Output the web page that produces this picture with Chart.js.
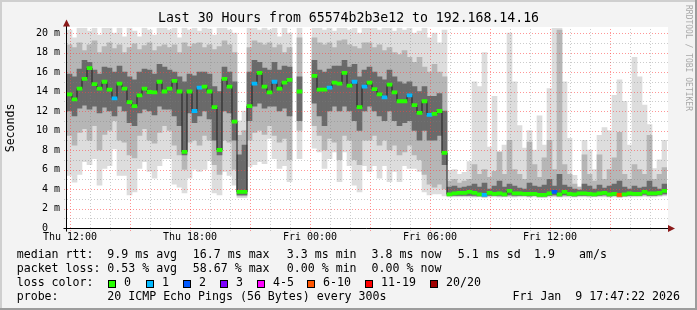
<!DOCTYPE html>
<html>
<head>
<meta charset="utf-8">
<script src="https://cdn.jsdelivr.net/npm/chart.js@4.4.1/dist/chart.umd.min.js"></script>
<style>
html, body { margin: 0; padding: 0; background: #f3f3f3; }
canvas { display: block; }
</style>
</head>
<body>
<canvas id="smoke" width="697" height="310" style="width:697px;height:310px"></canvas>
<script>
// 30 hours of 15 minute bins, first bin starts Thu 11:51 (hours counted from Thu 00:00)
var binStart = 11.85;
var binStep = 0.25;

// median rtt in ms per bin (null = no data)
var median = [
  13.7, 13.2, 14.3, 15.3, 16.4, 14.75, 14.3, 15.0, 14.2, 13.3, 14.8, 14.3, 12.9, 12.5, 13.6, 14.3, 13.95, 13.9, 15.0, 14.0,
  14.3, 15.1, 14.0, 7.8, 14.0, 12.0, 14.4, 14.5, 14.0, 12.4, 8.0, 15.3, 14.5, 10.9, 3.7, 3.7, 12.5, 14.8, 15.9, 14.5,
  13.9, 15.0, 14.3, 14.9, 15.2, null, 14.0, null, null, 15.6, 14.2, 14.2, 14.4, 14.9, 14.8, 15.9, 14.6, 15.0, 12.4, 14.5,
  14.9, 14.25, 13.7, 13.4, 14.7, 13.9, 13.0, 13.0, 13.6, 12.6, 11.8, 13.0, 11.6, 11.7, 12.0, 7.7, 3.45, 3.55, 3.6, 3.6,
  3.7, 3.6, 3.45, 3.4, 3.6, 3.5, 3.55, 3.45, 3.8, 3.55, 3.55, 3.5, 3.5, 3.5, 3.4, 3.4, 3.55, 3.7, 3.45, 3.7,
  3.5, 3.45, 3.55, 3.55, 3.5, 3.45, 3.55, 3.6, 3.45, 3.5, 3.4, 3.45, 3.55, 3.5, 3.5, 3.7, 3.55, 3.55, 3.6, 3.8
];

// outer smoke (lightest)
var lightHi = [
  20.3, 19.5, 20.5, 20.5, 20.2, 20.5, 19.8, 20.5, 20.5, 20.0, 20.5, 19.6, 20.5, 20.2, 19.6, 20.5, 20.3, 19.8, 20.5, 20.5,
  20.3, 20.5, 19.5, 20.5, 20.3, 20.5, 20.2, 20.5, 20.4, 19.8, 20.5, 20.5, 20.3, 20.0, 11.0, 12.0, 20.5, 20.5, 20.3, 20.5,
  20.3, 20.5, 19.6, 20.5, 20.0, null, 20.5, null, null, 20.5, 20.5, 20.3, 20.5, 20.2, 20.5, 20.5, 20.3, 20.5, 20.0, 20.5,
  20.5, 20.5, 20.3, 20.5, 20.5, 20.2, 20.5, 20.3, 20.5, 20.0, 20.2, 20.5, 19.5, 20.0, 19.0, 20.3, 5.9, 6.0, 5.5, 5.7,
  6.8, 15.0, 14.5, 18.0, 8.3, 13.5, 6.5, 8.5, 20.0, 15.0, 10.5, 8.2, 10.0, 8.0, 11.5, 8.5, 14.3, 20.5, 20.5, 15.0,
  9.2, 5.4, 4.2, 9.0, 8.0, 6.0, 9.5, 10.3, 10.0, 13.6, 15.2, 13.0, 8.5, 17.5, 15.5, 12.6, 10.6, 6.1, 7.0, 9.0
];
var lightLo = [
  5.4, 4.7, 5.5, 6.8, 6.5, 7.1, 4.4, 6.1, 6.4, 8.1, 5.4, 5.4, 3.4, 3.7, 6.1, 6.8, 5.8, 5.1, 6.4, 7.1,
  7.1, 4.5, 4.2, 3.6, 5.1, 6.0, 5.8, 6.0, 6.9, 3.6, 3.4, 5.8, 5.4, 4.4, 3.1, 3.1, 6.3, 6.5, 6.8, 6.6,
  9.2, 7.1, 6.1, 6.4, 4.75, null, 7.1, null, null, 8.2, 7.8, 6.1, 7.1, 7.8, 4.75, 7.8, 6.4, 4.4, 3.7, 6.4,
  5.8, 6.4, 5.1, 6.4, 4.75, 5.8, 4.75, 6.4, 6.1, 6.1, 5.8, 3.7, 3.4, 3.5, 3.5, 3.3, 3.2, 3.2, 3.2, 3.2,
  3.2, 3.15, 3.2, 3.1, 3.2, 3.2, 3.15, 3.2, 3.2, 3.15, 3.2, 3.2, 3.15, 3.2, 3.1, 3.1, 3.2, 3.2, 3.15, 3.2,
  3.2, 3.15, 3.2, 3.2, 3.15, 3.2, 3.2, 3.2, 3.15, 3.2, 3.1, 3.2, 3.2, 3.2, 3.2, 3.25, 3.2, 3.2, 3.25, 3.3
];

// middle smoke
var midHi = [
  18.8, 18.5, 19.0, 18.2, 18.8, 19.2, 18.0, 18.6, 19.0, 18.4, 18.8, 18.0, 18.5, 18.9, 18.3, 18.7, 19.0, 18.2, 18.6, 18.8,
  18.5, 18.8, 18.0, 19.0, 18.6, 18.9, 19.0, 18.5, 18.8, 18.3, 18.6, 19.2, 18.8, 18.0, 9.5, 10.0, 18.5, 19.2, 19.0, 18.8,
  19.0, 18.5, 18.8, 18.0, 18.5, null, 19.5, null, null, 19.5, 19.0, 18.8, 19.0, 18.5, 19.2, 19.3, 18.8, 18.6, 18.4, 19.0,
  19.0, 18.5, 18.8, 18.2, 18.5, 18.0, 17.8, 18.2, 17.5, 17.0, 17.5, 16.5, 16.0, 16.8, 16.0, 15.5, 4.8, 5.0, 4.6, 4.8,
  5.0, 6.5, 5.5, 6.0, 5.2, 5.8, 7.8, 5.5, 9.0, 6.0, 5.5, 5.0, 8.8, 6.5, 5.2, 7.2, 9.0, 6.0, 20.3, 6.5,
  5.5, 4.5, 4.2, 7.5, 5.5, 4.8, 7.5, 5.0, 6.0, 7.2, 9.8, 5.5, 5.0, 6.5, 6.0, 5.5, 9.5, 5.0, 5.5, 6.2
];
var midLo = [
  9.5, 8.5, 9.8, 10.2, 9.0, 10.5, 8.0, 9.6, 10.0, 11.0, 9.0, 8.8, 7.5, 7.2, 9.5, 10.2, 9.0, 8.7, 9.8, 10.5,
  10.0, 8.5, 7.5, 6.0, 8.8, 9.0, 8.5, 9.5, 9.0, 6.5, 5.5, 9.0, 8.8, 6.0, 3.3, 3.3, 9.0, 9.8, 10.0, 9.6,
  10.5, 9.5, 8.8, 9.2, 7.0, null, 10.0, null, null, 10.5, 9.5, 8.0, 9.2, 8.8, 7.0, 9.5, 9.0, 7.0, 6.5, 9.0,
  9.0, 9.5, 8.5, 9.0, 8.0, 8.5, 7.5, 7.8, 8.5, 7.5, 7.0, 5.5, 4.5, 4.2, 4.5, 4.0, 3.3, 3.3, 3.3, 3.3,
  3.3, 3.25, 3.3, 3.2, 3.3, 3.3, 3.25, 3.3, 3.3, 3.25, 3.3, 3.3, 3.25, 3.3, 3.2, 3.2, 3.3, 3.3, 3.25, 3.3,
  3.3, 3.25, 3.3, 3.3, 3.25, 3.3, 3.3, 3.3, 3.25, 3.3, 3.2, 3.3, 3.3, 3.3, 3.3, 3.35, 3.3, 3.3, 3.35, 3.4
];

// inner smoke (darkest)
var darkHi = [
  15.8, 15.5, 16.3, 17.2, 17.0, 16.2, 15.8, 16.5, 16.4, 16.0, 16.6, 16.0, 15.5, 15.2, 16.0, 16.3, 16.2, 15.8, 16.8, 16.5,
  16.2, 16.0, 15.5, 15.0, 15.8, 15.6, 16.0, 16.0, 15.8, 14.5, 14.0, 16.5, 16.0, 15.0, 7.5, 8.5, 16.0, 17.2, 17.0, 16.4,
  16.2, 17.0, 16.2, 16.6, 16.5, null, 15.5, null, null, 17.2, 16.2, 16.0, 16.3, 16.6, 16.6, 17.2, 16.5, 16.8, 15.5, 16.2,
  16.5, 16.0, 15.5, 15.2, 16.2, 15.5, 15.0, 14.8, 15.0, 14.5, 14.0, 14.5, 13.5, 13.5, 13.8, 12.0, 4.2, 4.3, 4.1, 4.2,
  4.3, 4.5, 4.2, 4.6, 4.0, 4.3, 4.8, 4.2, 4.5, 4.3, 4.1, 4.0, 4.6, 4.3, 4.2, 4.4, 5.0, 4.3, 5.5, 4.4,
  4.2, 4.0, 3.9, 4.5, 4.3, 4.0, 4.4, 4.1, 4.3, 4.5, 4.8, 4.2, 4.0, 4.3, 4.1, 4.2, 4.8, 4.2, 4.0, 4.5
];
var darkLo = [
  12.0, 11.5, 12.3, 12.6, 12.2, 12.5, 11.8, 12.4, 12.0, 11.5, 12.5, 12.0, 10.8, 10.5, 11.8, 12.2, 12.0, 11.6, 12.5, 12.2,
  12.2, 11.5, 10.5, 7.5, 11.8, 10.8, 11.5, 12.0, 11.2, 9.0, 7.5, 12.0, 11.8, 9.0, 3.4, 3.4, 11.0, 12.5, 12.8, 12.3,
  12.5, 12.5, 12.0, 12.3, 11.5, null, 11.0, null, null, 12.8, 11.5, 10.5, 12.0, 12.5, 12.0, 12.5, 12.0, 11.0, 10.0, 12.0,
  12.5, 12.0, 11.5, 11.0, 12.0, 11.0, 10.5, 10.8, 11.0, 10.0, 9.0, 10.0, 9.0, 9.0, 9.5, 6.5, 3.35, 3.35, 3.35, 3.35,
  3.35, 3.35, 3.3, 3.3, 3.35, 3.35, 3.35, 3.3, 3.4, 3.35, 3.35, 3.35, 3.3, 3.35, 3.3, 3.3, 3.35, 3.4, 3.3, 3.4,
  3.35, 3.3, 3.35, 3.35, 3.35, 3.3, 3.35, 3.4, 3.3, 3.35, 3.3, 3.3, 3.35, 3.35, 3.35, 3.45, 3.35, 3.35, 3.4, 3.5
];

// bins where packets were lost, and the loss colour index they got
var lossBins = [9, 25, 26, 37, 41, 52, 57, 59, 63, 68, 72, 83, 97, 110];
var lossLevels = [1, 1, 1, 1, 1, 1, 1, 1, 1, 1, 1, 1, 2, 5];

var lossColors = ['#26ff00', '#00b8ff', '#0059ff', '#7e00ff', '#ff00ff', '#ff5500', '#ff0000', '#a10000'];
var lossLabels = ['0', '1', '2', '3', '4-5', '6-10', '11-19', '20/20'];

var xTickHours = [12, 18, 24, 30, 36];
var xTickLabels = ['Thu 12:00', 'Thu 18:00', 'Fri 00:00', 'Fri 06:00', 'Fri 12:00'];
var yTickValues = [0, 2, 4, 6, 8, 10, 12, 14, 16, 18, 20];

var rttStats = ['9.9 ms avg', '16.7 ms max', '3.3 ms min', '3.8 ms now', '5.1 ms sd', '1.9', 'am/s'];
var lossStats = ['0.53 % avg', '58.67 % max', '0.00 % min', '0.00 % now'];
var probeText = '20 ICMP Echo Pings (56 Bytes) every 300s';
var stampText = 'Fri Jan  9 17:47:22 2026';

var MONO = '"DejaVu Sans Mono", monospace';

var binHours = median.map(function(v, i) { return binStart + (i + 0.5) * binStep; });

function band(lo, hi) {
  var pts = [];
  for (var i = 0; i < hi.length; i++) {
    if (hi[i] === null || lo[i] === null) continue;
    pts.push({x: binHours[i], y: [lo[i], hi[i]]});
  }
  return pts;
}

function lossColorAt(i) {
  var k = lossBins.indexOf(i);
  return lossColors[k < 0 ? 0 : lossLevels[k]];
}

var medianLine = median.map(function(v, i) { return {x: binHours[i], y: v}; });
var medianMarks = [], markColors = [];
median.forEach(function(v, i) {
  if (v === null) return;
  medianMarks.push({x: binHours[i], y: [v - 0.16, v + 0.16]});
  markColors.push(lossColorAt(i));
});

function drawGrid(chart) {
  var c = chart.ctx, a = chart.chartArea, xs = chart.scales.x, ys = chart.scales.y;
  c.save();
  c.lineWidth = 1;
  c.setLineDash([1, 2]);
  for (var h = Math.ceil(xs.min); h <= xs.max; h++) {
    var px = Math.round(xs.getPixelForValue(h)) + 0.5;
    c.strokeStyle = h % 3 === 0 ? 'rgba(255,64,64,0.55)' : 'rgba(128,128,128,0.4)';
    c.beginPath(); c.moveTo(px, a.bottom + 3); c.lineTo(px, Math.floor(a.top)); c.stroke();
  }
  for (var v = 1; v <= 20; v++) {
    var py = Math.round(ys.getPixelForValue(v)) + 0.5;
    c.strokeStyle = v % 2 === 0 ? 'rgba(255,64,64,0.55)' : 'rgba(128,128,128,0.4)';
    c.beginPath(); c.moveTo(a.left - 3, py); c.lineTo(a.right + 1, py); c.stroke();
  }
  c.restore();
}

var smokeFrame = {
  id: 'smokeFrame',
  beforeDraw: function(chart) {
    var c = chart.ctx, a = chart.chartArea, w = chart.width, h = chart.height;
    c.save();
    c.fillStyle = '#f3f3f3';
    c.fillRect(0, 0, w, h);
    c.fillStyle = '#cfcfcf';
    c.fillRect(0, 0, w, 2);
    c.fillRect(0, 0, 2, h);
    c.fillStyle = '#9c9c9c';
    c.fillRect(0, h - 2, w, 2);
    c.fillRect(w - 2, 0, 2, h);
    c.fillStyle = '#ffffff';
    c.fillRect(a.left, Math.floor(a.top), a.right - a.left + 1, a.bottom - Math.floor(a.top));
    c.restore();
  },
  beforeDatasetDraw: function(chart, args) {
    if (args.index === 3) drawGrid(chart);
  },
  afterDraw: function(chart) {
    var c = chart.ctx, a = chart.chartArea;
    c.save();
    // axes
    c.strokeStyle = '#000';
    c.lineWidth = 1;
    var by = Math.round(a.bottom) + 0.5, lx = Math.round(a.left) - 0.5;
    c.beginPath(); c.moveTo(lx - 3, by); c.lineTo(a.right + 2, by); c.stroke();
    c.beginPath(); c.moveTo(lx, by + 3); c.lineTo(lx, 25); c.stroke();
    c.fillStyle = '#8b1a1a';
    c.beginPath(); c.moveTo(a.right + 8, by); c.lineTo(a.right + 1, by - 3.5); c.lineTo(a.right + 1, by + 3.5); c.closePath(); c.fill();
    c.beginPath(); c.moveTo(lx, 19.5); c.lineTo(lx - 3.5, 26.5); c.lineTo(lx + 3.5, 26.5); c.closePath(); c.fill();

    // legend
    c.fillStyle = '#000';
    c.font = '11.6px ' + MONO;
    c.textBaseline = 'alphabetic';
    c.textAlign = 'left';
    var statX = [107.3, 192.8, 286.8, 371.6, 457.8, 534, 579];
    c.fillText('median rtt:', 16.7, 257.5);
    rttStats.forEach(function(t, i) { c.fillText(t, statX[i], 257.5); });
    c.fillText('packet loss:', 16.7, 271.5);
    lossStats.forEach(function(t, i) { c.fillText(t, statX[i], 271.5); });
    c.fillText('loss color:', 16.7, 285.5);
    var boxX = [108, 146, 183, 220, 257, 307, 365, 430];
    lossLabels.forEach(function(t, i) {
      c.fillStyle = lossColors[i];
      c.fillRect(boxX[i], 280, 8, 8);
      c.strokeStyle = '#000';
      c.strokeRect(boxX[i] + 0.5, 280.5, 7, 7);
      c.fillStyle = '#000';
      c.fillText(t, boxX[i] + 16, 285.5);
    });
    c.fillText('probe:', 16.7, 299.5);
    c.fillText(probeText, 107.3, 299.5);
    c.textAlign = 'right';
    c.fillText(stampText, 680, 299.5);

    // watermark
    c.translate(688, 5);
    c.rotate(Math.PI / 2);
    c.textAlign = 'left';
    c.textBaseline = 'middle';
    c.font = '8px ' + MONO;
    c.fillStyle = '#a8a8a8';
    c.fillText('RRDTOOL / TOBI OETIKER', 0, 0);
    c.restore();
  }
};

var smokeBar = {type: 'bar', grouped: false, borderWidth: 0, borderSkipped: false, barPercentage: 1, categoryPercentage: 1};

var config = {
  type: 'bar',
  data: {
    datasets: [
      Object.assign({}, smokeBar, {label: 'smoke outer', data: band(lightLo, lightHi), backgroundColor: '#dddddd', order: 5}),
      Object.assign({}, smokeBar, {label: 'smoke mid', data: band(midLo, midHi), backgroundColor: '#b6b6b6', order: 4}),
      Object.assign({}, smokeBar, {label: 'smoke inner', data: band(darkLo, darkHi), backgroundColor: '#6a6a6a', order: 3}),
      {type: 'line', label: 'median', data: medianLine, stepped: 'middle', borderColor: '#202020', borderWidth: 1,
       pointRadius: 0, spanGaps: false, fill: false, order: 2},
      Object.assign({}, smokeBar, {label: 'median loss', data: medianMarks, backgroundColor: markColors, order: 1})
    ]
  },
  plugins: [smokeFrame],
  options: {
    responsive: false,
    animation: false,
    devicePixelRatio: 1,
    layout: {padding: {left: 0, right: 0, top: 0, bottom: 0}},
    plugins: {
      legend: {display: false},
      tooltip: {enabled: false},
      title: {
        display: true,
        text: 'Last 30 Hours from 65574b2b3e12 to 192.168.14.16',
        color: '#000',
        font: {family: MONO, size: 13.2, weight: 'normal', lineHeight: 1.2},
        padding: {top: 11, bottom: 1}
      }
    },
    scales: {
      x: {
        type: 'linear',
        min: binStart,
        max: binStart + 30,
        offset: false,
        afterBuildTicks: function(s) { s.ticks = xTickHours.map(function(v) { return {value: v}; }); },
        afterFit: function(s) { s.height = 82; },
        grid: {display: false, drawTicks: false},
        border: {display: false},
        ticks: {
          color: '#000', padding: 3, maxRotation: 0, autoSkip: false,
          font: {family: MONO, size: 10},
          callback: function(v, i) { return xTickLabels[i]; }
        }
      },
      y: {
        type: 'linear',
        min: 0,
        max: 20.53,
        afterBuildTicks: function(s) { s.ticks = yTickValues.map(function(v) { return {value: v}; }); },
        afterFit: function(s) { s.width = 67; },
        grid: {display: false, drawTicks: false},
        border: {display: false},
        ticks: {
          color: '#000', padding: 7, autoSkip: false,
          font: {family: MONO, size: 10},
          callback: function(v) { return v === 0 ? '0  ' : v + ' m'; }
        },
        title: {
          display: true, text: 'Seconds', color: '#000',
          font: {family: MONO, size: 11.6, lineHeight: 1.2},
          padding: {top: 4, bottom: 0}
        }
      },
      // empty right-hand strip so the title centres on the whole image
      yRight: {
        type: 'linear',
        position: 'right',
        afterFit: function(s) { s.width = 30; },
        grid: {display: false, drawTicks: false},
        border: {display: false},
        ticks: {display: false}
      }
    }
  }
};

var chart = new Chart(document.getElementById('smoke'), config);
</script>
</body>
</html>
